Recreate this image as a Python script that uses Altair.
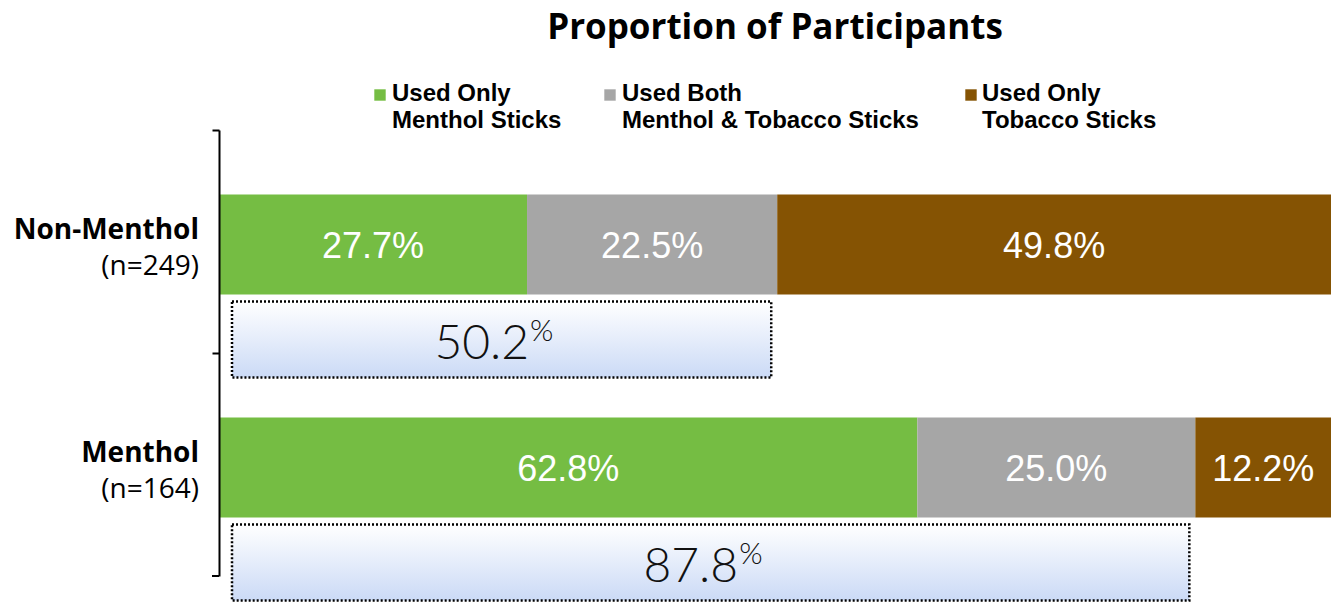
import altair as alt
import pandas as pd

# ---- data ----
categories = ["Non-Menthol", "Menthol"]
sample_sizes = ["(n=249)", "(n=164)"]
segments = ["Used Only Menthol Sticks", "Used Both Menthol & Tobacco Sticks", "Used Only Tobacco Sticks"]
legend_lines = [["Used Only", "Menthol Sticks"],
                ["Used Both", "Menthol & Tobacco Sticks"],
                ["Used Only", "Tobacco Sticks"]]
only_menthol = [27.7, 62.8]
both_sticks = [22.5, 25.0]
only_tobacco = [49.8, 12.2]
any_menthol = [50.2, 87.8]
title_text = "Proportion of Participants"
seg_colors = ["#75BD43", "#A6A6A6", "#855303"]

rows = []
for i, cat in enumerate(categories):
    for j, vals in enumerate([only_menthol, both_sticks, only_tobacco]):
        rows.append({"category": cat, "segment": segments[j], "order": j, "value": vals[i]})
df = pd.DataFrame(rows)
cat_df = pd.DataFrame({"category": categories, "n": sample_sizes})
box_df = pd.DataFrame({"category": categories, "total": any_menthol})

W, H = 1112, 446
ysc = alt.Scale(domain=categories, paddingInner=0, paddingOuter=0)
xsc = alt.Scale(domain=[0, 100], nice=False, zero=True)

Y = alt.Y("category:N", sort=categories, scale=ysc,
          axis=alt.Axis(title=None, labels=False, grid=False, domainColor="black",
                        domainWidth=2, tickColor="black", tickWidth=2, tickSize=7,
                        bandPosition=0, zindex=1))

bars = alt.Chart(df).mark_bar(size=100, yOffset=3).encode(
    y=Y,
    x=alt.X("value:Q", stack="zero", scale=xsc, axis=None),
    color=alt.Color("segment:N", scale=alt.Scale(domain=segments, range=seg_colors), legend=None),
    order=alt.Order("order:Q"),
)

bar_labels = alt.Chart(df).transform_stack(
    stack="value", as_=["v0", "v1"], groupby=["category"], sort=[alt.SortField("order")]
).transform_calculate(
    mid="(datum.v0 + datum.v1) / 2",
    label="format(datum.value, '.1f') + '%'",
).mark_text(font="Liberation Sans", fontSize=36, color="white", baseline="middle", yOffset=5).encode(
    x=alt.X("mid:Q", scale=xsc, axis=None), y=Y, text="label:N"
)

gradient = alt.LinearGradient(
    gradient="linear",
    stops=[alt.GradientStop(color="#ffffff", offset=0), alt.GradientStop(color="#cbdaf6", offset=1)],
    x1=0, x2=0, y1=0, y2=1,
)
boxes = alt.Chart(box_df).transform_calculate(start="0").mark_bar(
    size=76, yOffset=98, xOffset=13, x2Offset=-6, fill=gradient, stroke="black",
    strokeWidth=2.5, strokeDash=[2, 2]
).encode(x=alt.X("start:Q", scale=xsc, axis=None), x2="total:Q", y=Y)

box_base = alt.Chart(box_df).transform_calculate(
    center="datum.total / 2", num="format(datum.total, '.1f')"
)
box_num = box_base.mark_text(
    font="Lato", fontWeight=300, fontSize=48, color="#111111", align="right",
    baseline="alphabetic", xOffset=31, yOffset=117
).encode(x=alt.X("center:Q", scale=xsc, axis=None), y=Y, text="num:N")
box_pct = box_base.mark_text(
    font="Lato", fontWeight=300, fontSize=30, color="#111111", align="left",
    baseline="alphabetic", xOffset=32, yOffset=99, text="%"
).encode(x=alt.X("center:Q", scale=xsc, axis=None), y=Y)

cat_names = alt.Chart(cat_df).mark_text(
    font="Open Sans", fontWeight="bold", fontSize=28, color="black", align="right",
    baseline="alphabetic", yOffset=-3
).encode(x=alt.value(-20), y=Y, text="category:N")
cat_ns = alt.Chart(cat_df).mark_text(
    font="Open Sans", fontSize=28, color="black", align="right",
    baseline="alphabetic", yOffset=33
).encode(x=alt.value(-20), y=Y, text="n:N")

bottom_tick = alt.Chart(cat_df).mark_rule(color="black", strokeWidth=2).encode(
    x=alt.value(-7), x2=alt.value(0), y=alt.value(H)
)

legend_layers = []
sq_x = [161, 391, 752]
tx_x = [173, 403, 763]
for k in range(3):
    d = pd.DataFrame({"segment": [segments[k]]})
    legend_layers.append(
        alt.Chart(d).mark_square(size=130, filled=True, opacity=1).encode(
            x=alt.value(sq_x[k]), y=alt.value(-35), color=alt.value(seg_colors[k])
        )
    )
    legend_layers.append(
        alt.Chart(d).mark_text(
            font="Liberation Sans", fontWeight="bold", fontSize=24, color="black",
            align="left", baseline="alphabetic", lineHeight=27, text=legend_lines[k]
        ).encode(x=alt.value(tx_x[k]), y=alt.value(-29))
    )

chart = alt.layer(
    bars, bar_labels, boxes, box_num, box_pct, cat_names, cat_ns, bottom_tick, *legend_layers
).properties(
    width=W, height=H,
    autosize="none",
    padding={"left": 211, "top": 122, "right": 0, "bottom": 26},
    title=alt.TitleParams(title_text, font="Open Sans", fontSize=35, fontWeight="bold",
                          color="black", anchor="middle", frame="group", offset=36),
).configure_view(stroke=None)

chart.save("out.html", embed_options={"renderer": "svg", "actions": False})
